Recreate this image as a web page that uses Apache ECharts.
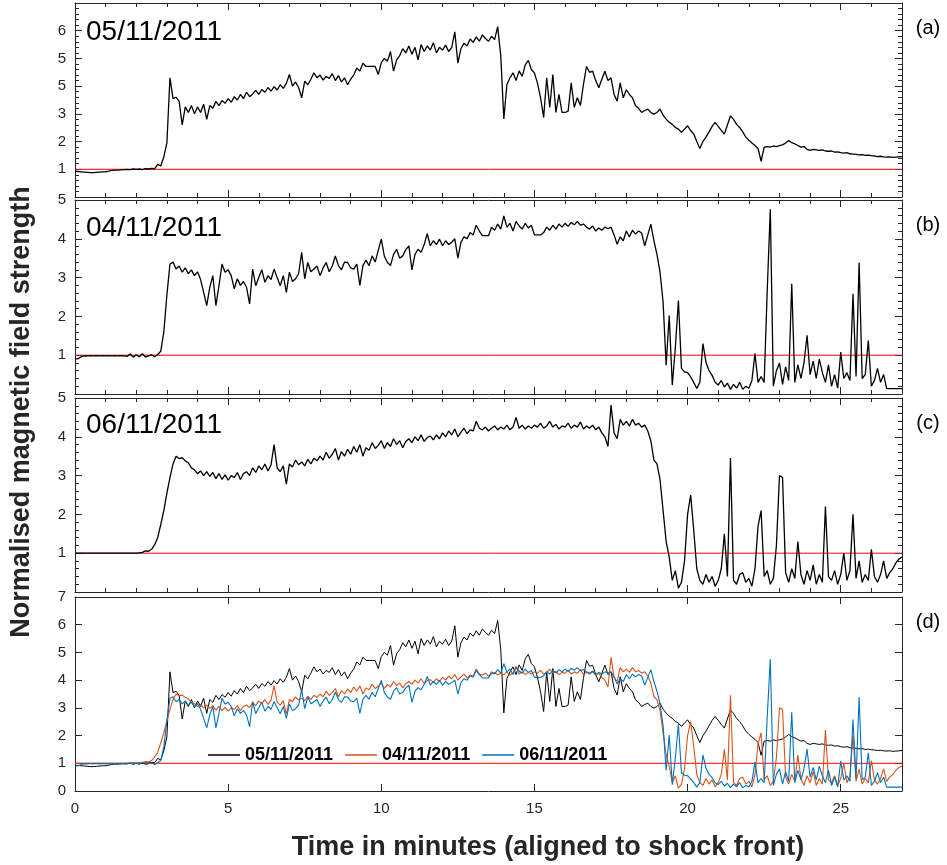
<!DOCTYPE html>
<html>
<head>
<meta charset="utf-8">
<script src="https://cdn.jsdelivr.net/npm/echarts@6/dist/echarts.min.js"></script>
<style>
  html, body { margin: 0; padding: 0; background: #fff; }
  #chart { width: 947px; height: 865px; }
</style>
</head>
<body>
<div id="chart"></div>
<script>
// samples every 0.1 minute, starting at 0
const dt = 0.1;

const field0511 = [
  0.93, 0.92, 0.91, 0.90, 0.89, 0.88, 0.88, 0.89, 0.90, 0.91,
  0.91, 0.93, 0.96, 0.97, 0.97, 0.98, 0.99, 1.00, 0.99, 1.01,
  1.00, 1.01, 0.99, 1.02, 1.01, 1.03, 1.02, 1.18, 1.12, 1.45,
  1.95, 4.30, 3.55, 3.60, 3.45, 2.60, 3.25, 3.05, 3.30, 3.00,
  3.25, 3.05, 3.35, 2.80, 3.30, 3.20, 3.45, 3.30, 3.48, 3.38,
  3.55, 3.42, 3.62, 3.50, 3.70, 3.55, 3.78, 3.62, 3.72, 3.85,
  3.70, 3.88, 3.78, 3.95, 3.82, 3.98, 3.86, 4.05, 3.92, 4.10,
  4.42, 4.00, 4.15, 3.95, 3.58, 4.18, 4.05, 4.25, 4.48, 4.30,
  4.40, 4.22, 4.35, 4.28, 4.45, 4.20, 4.38, 4.15, 4.30, 4.05,
  4.25, 4.40, 4.65, 4.55, 4.83, 4.71, 4.71, 4.71, 4.71, 4.42,
  4.85, 5.00, 4.90, 5.25, 4.54, 4.95, 5.10, 5.35, 5.20, 5.45,
  5.15, 5.40, 4.95, 5.50, 5.25, 5.45, 5.30, 5.57, 5.20, 5.40,
  5.30, 5.48, 5.25, 5.40, 5.96, 4.83, 5.35, 5.55, 5.45, 5.70,
  5.58, 5.78, 5.62, 5.85, 5.72, 5.62, 5.80, 5.68, 6.15, 5.10,
  2.82, 4.05, 4.30, 4.48, 4.20, 4.55, 4.35, 4.77, 4.93, 4.60,
  4.48, 4.10, 3.58, 2.87, 4.30, 3.23, 4.42, 3.05, 3.70, 3.05,
  3.05, 3.10, 4.12, 3.23, 3.58, 3.30, 4.06, 4.71, 4.50, 4.54,
  4.20, 3.94, 4.25, 4.54, 4.20, 4.30, 3.70, 3.46, 4.12, 3.58,
  3.87, 3.70, 3.58, 3.29, 3.20, 3.05, 3.12, 3.17, 3.05, 2.99,
  3.05, 3.17, 2.95, 2.81, 2.70, 2.62, 2.51, 2.45, 2.33, 2.45,
  2.57, 2.40, 2.27, 2.00, 1.75, 2.00, 2.16, 2.35, 2.55, 2.69,
  2.55, 2.40, 2.27, 2.60, 2.93, 2.80, 2.62, 2.51, 2.35, 2.16,
  2.05, 1.95, 1.86, 1.75, 1.29, 1.80, 1.82, 1.80, 1.84, 1.82,
  1.85, 1.88, 1.95, 2.04, 1.96, 1.92, 1.86, 1.80, 1.82, 1.72,
  1.68, 1.72, 1.70, 1.68, 1.70, 1.66, 1.65, 1.66, 1.62, 1.63,
  1.60, 1.58, 1.60, 1.56, 1.55, 1.54, 1.52, 1.53, 1.50, 1.51,
  1.49, 1.48, 1.46, 1.47, 1.45, 1.44, 1.45, 1.43, 1.44, 1.45,
  1.46
];

const field0411 = [
  0.90, 0.91, 0.96, 0.98, 0.98, 0.99, 0.98, 0.99, 0.98, 0.99,
  0.98, 0.99, 0.98, 0.99, 0.98, 0.99, 0.98, 0.97, 1.03, 0.95,
  1.01, 0.96, 1.04, 0.95, 0.98, 1.01, 0.96, 1.02, 1.10, 1.60,
  2.55, 3.35, 3.40, 3.22, 3.30, 3.14, 3.25, 3.10, 3.20, 3.05,
  3.15, 2.95, 2.62, 2.28, 2.75, 3.05, 2.28, 2.79, 3.35, 3.14,
  3.20, 3.05, 2.71, 2.97, 2.80, 2.90, 2.75, 2.32, 3.22, 2.79,
  3.00, 3.20, 2.88, 3.05, 2.95, 3.22, 3.00, 2.79, 3.05, 2.62,
  3.14, 2.90, 2.97, 3.10, 3.65, 2.97, 3.39, 3.15, 3.22, 3.30,
  3.05, 3.25, 3.39, 3.15, 3.30, 3.56, 3.31, 3.20, 3.40, 3.39,
  3.25, 3.22, 3.35, 2.80, 3.31, 3.45, 3.31, 3.56, 3.40, 3.70,
  3.99, 3.55, 3.39, 3.31, 3.60, 3.73, 3.50, 3.56, 3.72, 3.82,
  3.20, 3.60, 3.73, 3.65, 3.85, 4.13, 3.82, 3.95, 3.85, 3.99,
  3.82, 3.95, 3.85, 3.91, 4.00, 3.50, 3.91, 4.05, 4.00, 4.16,
  4.10, 4.35, 4.20, 4.08, 4.08, 4.08, 4.30, 4.22, 4.38, 4.25,
  4.59, 4.30, 4.40, 4.20, 4.45, 4.33, 4.25, 4.40, 4.28, 4.35,
  4.10, 4.10, 4.10, 4.16, 4.30, 4.22, 4.35, 4.25, 4.38, 4.30,
  4.40, 4.32, 4.42, 4.36, 4.45, 4.35, 4.38, 4.30, 4.25, 4.33,
  4.20, 4.28, 4.22, 4.30, 4.26, 4.30, 4.10, 3.86, 4.05, 3.95,
  4.20, 4.05, 4.22, 4.12, 4.20, 4.15, 3.82, 4.10, 4.38, 3.95,
  3.60, 3.14, 2.37, 0.74, 2.02, 0.23, 1.20, 2.41, 0.66, 0.57,
  0.55, 0.44, 0.30, 0.14, 0.30, 1.30, 0.82, 0.60, 0.48, 0.30,
  0.23, 0.35, 0.18, 0.28, 0.12, 0.25, 0.15, 0.30, 0.12, 0.20,
  0.15, 0.35, 1.04, 0.30, 0.45, 0.30, 2.67, 4.76, 0.20, 0.60,
  0.80, 0.25, 0.70, 0.35, 2.84, 0.30, 0.75, 0.40, 0.80, 1.51,
  0.50, 0.85, 0.40, 0.90, 0.55, 0.30, 0.75, 0.20, 0.50, 0.15,
  1.08, 0.40, 0.55, 0.35, 2.58, 0.45, 3.39, 0.40, 0.50, 1.38,
  0.20, 0.35, 0.66, 0.30, 0.50, 0.14, 0.14, 0.14, 0.14, 0.14,
  0.14
];

const field0611 = [
  1.00, 1.00, 1.00, 1.00, 1.00, 1.00, 1.00, 1.00, 1.00, 1.00,
  1.00, 1.00, 1.00, 1.00, 1.00, 1.00, 1.00, 1.00, 1.00, 1.00,
  1.00, 1.01, 1.02, 1.06, 1.05, 1.10, 1.22, 1.40, 1.74, 2.10,
  2.55, 2.95, 3.30, 3.50, 3.44, 3.46, 3.38, 3.33, 3.20, 3.15,
  3.05, 3.12, 3.00, 3.10, 2.98, 3.08, 2.92, 3.05, 2.90, 3.02,
  2.88, 3.00, 2.95, 3.08, 2.90, 3.05, 3.10, 3.00, 3.20, 3.08,
  3.25, 3.15, 3.30, 3.12, 3.28, 3.80, 3.20, 3.10, 3.25, 2.78,
  3.30, 3.22, 3.40, 3.28, 3.35, 3.25, 3.42, 3.30, 3.45, 3.38,
  3.50, 3.40, 3.60, 3.45, 3.55, 3.70, 3.40, 3.62, 3.50, 3.68,
  3.55, 3.75, 3.60, 3.80, 3.50, 3.72, 3.65, 3.85, 3.70, 3.78,
  3.90, 3.70, 3.85, 3.75, 3.95, 3.80, 3.90, 3.72, 3.88, 3.95,
  3.85, 4.00, 3.90, 4.05, 3.88, 3.98, 4.02, 3.92, 4.05, 3.95,
  4.10, 4.00, 4.15, 4.05, 4.20, 4.00, 4.12, 4.22, 4.08, 4.18,
  4.15, 4.40, 4.22, 4.18, 4.25, 4.15, 4.22, 4.28, 4.18, 4.25,
  4.20, 4.30, 4.18, 4.25, 4.50, 4.22, 4.30, 4.20, 4.28, 4.22,
  4.30, 4.25, 4.35, 4.22, 4.28, 4.40, 4.25, 4.32, 4.20, 4.28,
  4.25, 4.35, 4.22, 4.30, 4.25, 4.38, 4.20, 4.28, 4.22, 4.30,
  4.18, 4.25, 4.10, 4.00, 3.75, 4.82, 4.10, 3.95, 4.45, 4.30,
  4.40, 4.28, 4.45, 4.30, 4.35, 4.25, 4.30, 4.15, 3.90, 3.40,
  3.30, 2.90, 2.10, 1.30, 0.90, 0.30, 0.55, 0.10, 0.25, 0.80,
  2.00, 2.50, 1.60, 0.60, 0.30, 0.20, 0.45, 0.25, 0.40, 0.15,
  0.30, 0.60, 1.50, 0.40, 3.45, 0.30, 0.20, 0.45, 0.50, 0.25,
  0.35, 0.15, 0.60, 1.70, 2.10, 0.40, 0.55, 0.20, 0.35, 1.20,
  3.00, 2.95, 0.50, 0.25, 0.60, 0.35, 1.30, 0.45, 0.20, 0.55,
  0.30, 0.70, 0.20, 0.45, 0.25, 2.20, 0.40, 0.30, 0.55, 0.20,
  0.45, 1.00, 0.30, 0.55, 2.00, 0.35, 0.80, 0.25, 0.45, 0.30,
  1.10, 0.40, 0.25, 0.45, 0.80, 0.35, 0.50, 0.60, 0.75, 0.85,
  0.90
];

const dates = ['05/11/2011', '04/11/2011', '06/11/2011'];
const panelTags = ['(a)', '(b)', '(c)', '(d)'];
const timeSpan = [0, 27];
const refLevel = 1;
const xTicks = [0, 5, 10, 15, 20, 25];
const yLabelsA = ['', '1', '2', '3', '5', '5', '6', ''];
const yLabelsB = ['', '1', '2', '3', '4', '5'];
const yLabelsC = ['', '1', '2', '3', '4', '5'];
const yLabelsD = ['0', '1', '2', '3', '4', '5', '6', '7'];

const toPairs = vals => vals.map((v, i) => [+(i * dt).toFixed(2), v]);

const ink = '#262626';
const red = '#ff0000';
const font = "'Liberation Sans', Arial, Helvetica, sans-serif";

const frames = [
  { top: 3, yMax: 7, labels: yLabelsA, minor: true },
  { top: 200, yMax: 5, labels: yLabelsB, minor: true },
  { top: 398, yMax: 5, labels: yLabelsC, minor: true },
  { top: 597, yMax: 7, labels: yLabelsD, minor: false }
];

const grid = [], xAxis = [], yAxis = [];
frames.forEach((f, i) => {
  grid.push({ left: 75, width: 827, top: f.top, height: 194 });
  ['bottom', 'top'].forEach(pos => xAxis.push({
    type: 'value', gridIndex: i, position: pos,
    min: timeSpan[0], max: timeSpan[1], interval: 5,
    axisLine: { show: true, onZero: false, lineStyle: { color: ink, width: 1 } },
    axisTick: { show: true, inside: true, length: 7, lineStyle: { color: ink } },
    minorTick: { show: f.minor, splitNumber: 5, length: 4, lineStyle: { color: ink } },
    splitLine: { show: false },
    axisLabel: {
      show: i === 3 && pos === 'bottom', margin: 10,
      fontFamily: font, fontSize: 15, color: ink,
      showMaxLabel: false,
      formatter: v => xTicks.includes(v) ? String(v) : ''
    }
  }));
  ['left', 'right'].forEach(pos => yAxis.push({
    type: 'value', gridIndex: i, position: pos,
    min: 0, max: f.yMax, interval: 1,
    axisLine: { show: true, onZero: false, lineStyle: { color: ink, width: 1 } },
    axisTick: { show: true, inside: true, length: 7, lineStyle: { color: ink } },
    minorTick: { show: f.minor, splitNumber: 5, length: 4, lineStyle: { color: ink } },
    splitLine: { show: false },
    axisLabel: {
      show: pos === 'left', margin: 9,
      fontFamily: font, fontSize: 15, color: ink,
      formatter: v => f.labels[Math.round(v)] || ''
    }
  }));
});

function trace(name, vals, panel, color, width) {
  return {
    name, type: 'line', data: toPairs(vals),
    xAxisIndex: panel * 2, yAxisIndex: panel * 2,
    symbol: 'none', showSymbol: false, animation: false,
    lineStyle: { color, width }, itemStyle: { color },
    emphasis: { disabled: true }
  };
}

// red reference line at a normalised strength of 1
function unitLine(panel) {
  return {
    type: 'line', silent: true, data: timeSpan.map(t => [t, refLevel]),
    xAxisIndex: panel * 2, yAxisIndex: panel * 2,
    symbol: 'none', animation: false, z: 1,
    lineStyle: { color: red, width: 1 }, itemStyle: { color: red },
    emphasis: { disabled: true }
  };
}

const series = [
  unitLine(0), unitLine(1), unitLine(2), unitLine(3),
  trace('a', field0511, 0, '#000', 1.3),
  trace('b', field0411, 1, '#000', 1.3),
  trace('c', field0611, 2, '#000', 1.3),
  trace(dates[0], field0511, 3, '#000', 1),
  // in the combined panel the orange trace follows the (c) samples and the blue one the (b) samples
  trace(dates[1], field0611, 3, '#D95319', 1.1),
  trace(dates[2], field0411, 3, '#0072BD', 1.1)
];

const graphic = [];
[32, 228, 425].forEach((y, i) => graphic.push({
  type: 'text', x: 86, y,
  style: { text: dates[i], font: `28px ${font}`, fill: '#000', verticalAlign: 'middle' }
}));
[28, 225, 423, 622].forEach((y, i) => graphic.push({
  type: 'text', x: 928, y,
  style: { text: panelTags[i], font: `20px ${font}`, fill: '#000', align: 'center', verticalAlign: 'middle' }
}));
graphic.push({
  type: 'text', x: 548, y: 848,
  style: { text: 'Time in minutes (aligned to shock front)', font: `bold 27px ${font}`, fill: ink, align: 'center', verticalAlign: 'middle' }
});
graphic.push({
  type: 'text', x: 22, y: 412, rotation: Math.PI / 2,
  style: { text: 'Normalised magnetic field strength', font: `bold 27px ${font}`, fill: ink, align: 'center', verticalAlign: 'middle' }
});

const chart = echarts.init(document.getElementById('chart'), null, { renderer: 'canvas' });
chart.setOption({
  backgroundColor: '#ffffff',
  animation: false,
  grid, xAxis, yAxis, series, graphic,
  legend: {
    data: dates, left: 203, top: 741,
    icon: 'rect', itemWidth: 32, itemHeight: 1.5, itemGap: 12,
    selectedMode: false,
    textStyle: { fontFamily: font, fontWeight: 'bold', fontSize: 18, color: '#000' }
  }
});
</script>
</body>
</html>
